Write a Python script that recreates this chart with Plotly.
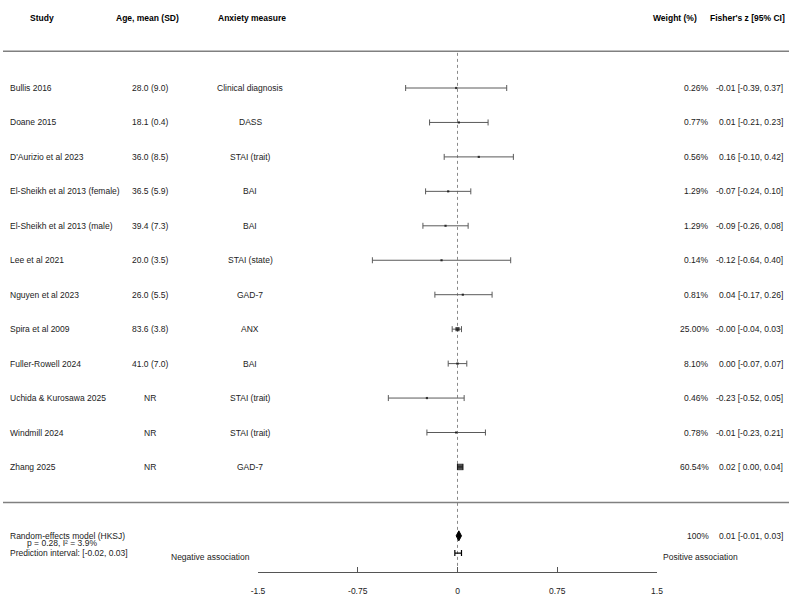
import plotly.graph_objects as go

# ---------------- data ----------------
studies = ["Bullis 2016", "Doane 2015", "D'Aurizio et al 2023", "El-Sheikh et al 2013 (female)",
           "El-Sheikh et al 2013 (male)", "Lee et al 2021", "Nguyen et al 2023", "Spira et al 2009",
           "Fuller-Rowell 2024", "Uchida & Kurosawa 2025", "Windmill 2024", "Zhang 2025"]
ages = ["28.0 (9.0)", "18.1 (0.4)", "36.0 (8.5)", "36.5 (5.9)", "39.4 (7.3)", "20.0 (3.5)",
        "26.0 (5.5)", "83.6 (3.8)", "41.0 (7.0)", "NR", "NR", "NR"]
measures = ["Clinical diagnosis", "DASS", "STAI (trait)", "BAI", "BAI", "STAI (state)",
            "GAD-7", "ANX", "BAI", "STAI (trait)", "STAI (trait)", "GAD-7"]
weights = [0.26, 0.77, 0.56, 1.29, 1.29, 0.14, 0.81, 25.00, 8.10, 0.46, 0.78, 60.54]
est = [-0.01, 0.01, 0.16, -0.07, -0.09, -0.12, 0.04, -0.00, 0.00, -0.23, -0.01, 0.02]
lo = [-0.39, -0.21, -0.10, -0.24, -0.26, -0.64, -0.17, -0.04, -0.07, -0.52, -0.23, 0.00]
hi = [0.37, 0.23, 0.42, 0.10, 0.08, 0.40, 0.26, 0.03, 0.07, 0.05, 0.21, 0.04]
est_labels = ["-0.01", "0.01", "0.16", "-0.07", "-0.09", "-0.12", "0.04", "-0.00", "0.00", "-0.23", "-0.01", "0.02"]

pooled_est, pooled_lo, pooled_hi = 0.01, -0.01, 0.03
pooled_weight = "100%"
pi_lo, pi_hi = -0.02, 0.03
p_value, i2 = 0.28, 3.9

tick_vals = [-1.5, -0.75, 0, 0.75, 1.5]
tick_text = ["-1.5", "-0.75", "0", "0.75", "1.5"]

headers = ["Study", "Age, mean (SD)", "Anxiety measure", "Weight (%)", "Fisher's z [95% CI]"]

# ---------------- layout geometry ----------------
W, H = 800, 607
ROW0_PX, ROW_PX = 88, 34.45
AXIS_PX = 572
n = len(studies)
rows = list(range(n))
SUM_ROW = n + 1
PI_ROW = SUM_ROW + 0.5
HEADER_ROW = -2.03
HLINE_TOP = -1.07
HLINE_BOT = n + 0.03
y_top = -ROW0_PX / ROW_PX
y_bot = (AXIS_PX - ROW0_PX) / ROW_PX

FONT = "Liberation Sans, Arial, Helvetica, sans-serif"
FS = 8.5
TXT = "#222222"
NB = "\u00a0"

def px(x):
    return x / W

fig = go.Figure()

# study estimates with CIs
max_w = max(weights)
sizes = [max(2.2, 6.5 * (w / max_w) ** 0.5) for w in weights]
fig.add_trace(go.Scatter(
    x=est, y=rows, mode="markers",
    marker=dict(symbol="square", size=sizes, color="black", line=dict(width=0)),
    error_x=dict(type="data", symmetric=False,
                 array=[h - e for h, e in zip(hi, est)],
                 arrayminus=[e - l for e, l in zip(est, lo)],
                 color="#5a5a5a", thickness=1, width=3),
    hoverinfo="skip", showlegend=False, cliponaxis=False))

# pooled diamond
dh = 0.145
fig.add_trace(go.Scatter(
    x=[pooled_lo, pooled_est, pooled_hi, pooled_est, pooled_lo],
    y=[SUM_ROW, SUM_ROW - dh, SUM_ROW, SUM_ROW + dh, SUM_ROW],
    mode="lines", fill="toself", fillcolor="black",
    line=dict(color="black", width=1), hoverinfo="skip", showlegend=False, cliponaxis=False))

# prediction interval
pi_c = (pi_lo + pi_hi) / 2
fig.add_trace(go.Scatter(
    x=[pi_c], y=[PI_ROW], mode="markers",
    marker=dict(size=1, color="rgba(0,0,0,0)"),
    error_x=dict(type="data", symmetric=True, array=[pi_hi - pi_c],
                 color="black", thickness=1.2, width=3),
    hoverinfo="skip", showlegend=False, cliponaxis=False))

shapes = [
    dict(type="line", xref="x", yref="y", x0=0, x1=0, y0=HLINE_TOP + 0.05, y1=y_bot,
         line=dict(color="#8a8a8a", width=1, dash="dot"), layer="below"),
    dict(type="line", xref="paper", yref="y", x0=px(3), x1=px(789), y0=HLINE_TOP, y1=HLINE_TOP,
         line=dict(color="#808080", width=1.5)),
    dict(type="line", xref="paper", yref="y", x0=px(3), x1=px(789), y0=HLINE_BOT, y1=HLINE_BOT,
         line=dict(color="#808080", width=1.5)),
]

ann = []
def add(text, x, y, anchor, bold=False, size=FS, color=TXT):
    ann.append(dict(text=f"<b>{text}</b>" if bold else text, x=px(x), y=y, xref="paper", yref="y",
                    xanchor=anchor, yanchor="middle", showarrow=False,
                    font=dict(family=FONT, size=size, color=color)))

# headers
add(headers[0], 42, HEADER_ROW, "center", bold=True, color="black")
add(headers[1], 147, HEADER_ROW, "center", bold=True, color="black")
add(headers[2], 252, HEADER_ROW, "center", bold=True, color="black")
add(headers[3], 699, HEADER_ROW, "right", bold=True, color="black")
add(headers[4], 787, HEADER_ROW, "right", bold=True, color="black")

def ci_text(e, l, h):
    ls = f"{l:.2f}" if l < 0 else NB + f"{l:.2f}"
    return f"{e} [{ls}, {h:.2f}]"

for i in rows:
    add(studies[i], 8, i, "left")
    add(ages[i], 150, i, "center")
    add(measures[i], 250, i, "center")
    add(f"{weights[i]:.2f}%", 711, i, "right")
    add(ci_text(est_labels[i], lo[i], hi[i]), 785, i, "right")

# summary
add("Random-effects model (HKSJ)", 8, SUM_ROW, "left")
add(f"p = {p_value:.2f}, I² = {i2}%", 62, SUM_ROW + 0.22, "center")
add(f"Prediction interval: [{pi_lo:.2f}, {pi_hi:.2f}]", 8, SUM_ROW + 0.49, "left")
add(pooled_weight, 711, SUM_ROW, "right")
add(ci_text(f"{pooled_est:.2f}", pooled_lo, pooled_hi), 785, SUM_ROW, "right")
add("Negative association", 169, SUM_ROW + 0.62, "left")
add("Positive association", 661, SUM_ROW + 0.62, "left")

fig.update_layout(
    width=W, height=H, margin=dict(l=0, r=0, t=0, b=0, pad=0, autoexpand=False),
    paper_bgcolor="white", plot_bgcolor="white",
    shapes=shapes, annotations=ann, showlegend=False,
    xaxis=dict(domain=[px(258), px(657)], range=[-1.5, 1.5], showgrid=False, zeroline=False,
               showline=True, linecolor="#555555", linewidth=1, automargin=False,
               ticks="inside", ticklen=5, tickwidth=1, tickcolor="#555555",
               tickvals=tick_vals, ticktext=tick_text, ticklabelstandoff=11,
               tickfont=dict(family=FONT, size=FS, color=TXT), fixedrange=True),
    yaxis=dict(domain=[1 - AXIS_PX / H, 1], range=[y_bot, y_top], visible=False,
               automargin=False, fixedrange=True),
)

fig.write_html("out.html")
